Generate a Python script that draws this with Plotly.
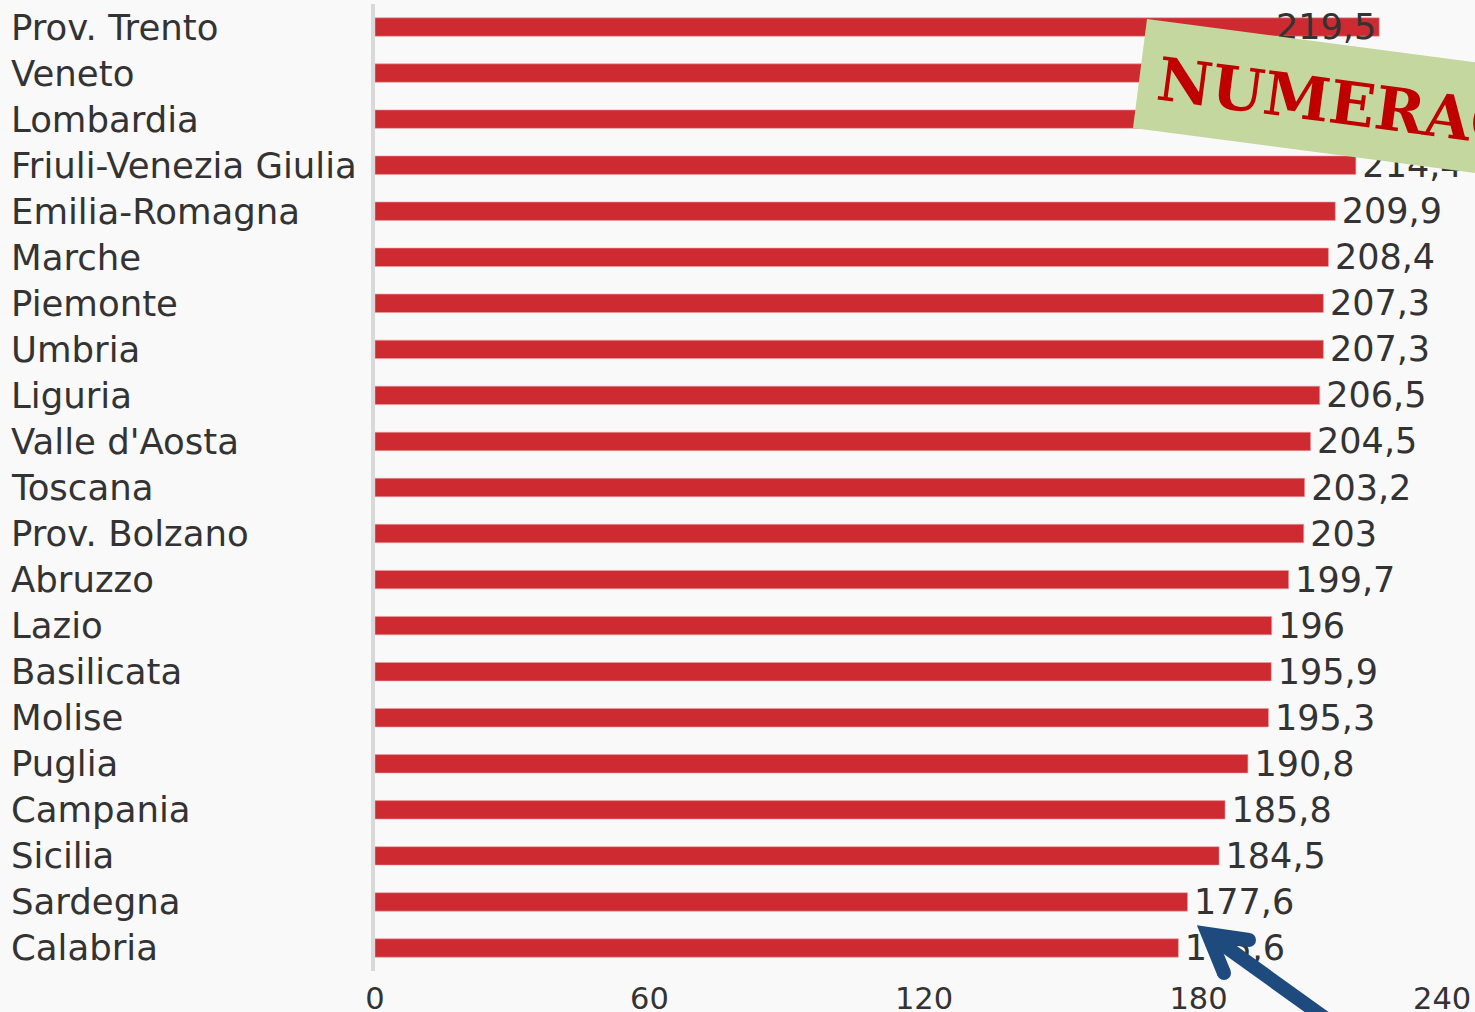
import plotly.graph_objects as go

regions = ["Prov. Trento", "Veneto", "Lombardia", "Friuli-Venezia Giulia", "Emilia-Romagna",
           "Marche", "Piemonte", "Umbria", "Liguria", "Valle d'Aosta", "Toscana",
           "Prov. Bolzano", "Abruzzo", "Lazio", "Basilicata", "Molise", "Puglia",
           "Campania", "Sicilia", "Sardegna", "Calabria"]
values = [219.5, 217.5, 216.8, 214.4, 209.9, 208.4, 207.3, 207.3, 206.5, 204.5, 203.2,
          203.0, 199.7, 196.0, 195.9, 195.3, 190.8, 185.8, 184.5, 177.6, 175.6]
x_ticks = [0, 60, 120, 180, 240]
banner_text = "NUMERACY"

positions = ["inside" if v >= 216 else "outside" for v in values]
labels = [("" if p == "inside" else "\u200a") + f"{v:g}".replace(".", ",")
          for v, p in zip(values, positions)]

W, H = 1475, 1012
ML, MR, MT, MB = 375, 2, 4, 41
PW, PH = W - ML - MR, H - MT - MB


def pp(x, y):
    return (x - ML) / PW, (H - MB - y) / PH


TXT = "#333333"
FONT = "DejaVu Sans"
CAT_SIZE = 35.5
VAL_SIZE = 35
TICK_SIZE = 30.5

fig = go.Figure()
fig.add_trace(go.Bar(
    y=regions, x=values, orientation="h",
    marker=dict(color="#cd2a31", line=dict(color="#e9a0a3", width=0.6)),
    text=labels, textposition=positions, textangle=0,
    insidetextanchor="end", constraintext="none", cliponaxis=False,
    textfont=dict(family=FONT, size=VAL_SIZE, color=TXT),
    insidetextfont=dict(family=FONT, size=VAL_SIZE, color=TXT),
    outsidetextfont=dict(family=FONT, size=VAL_SIZE, color=TXT),
    hoverinfo="skip",
))

annotations = []
for r in regions:
    annotations.append(dict(
        x=(9 - ML) / PW, xref="paper", y=r, yref="y", text=r, showarrow=False,
        xanchor="left", yanchor="middle", font=dict(family=FONT, size=CAT_SIZE, color=TXT)))

# last tick label kept inside the page
annotations.append(dict(
    x=x_ticks[-1], xref="x", y=pp(0, 998)[1], yref="paper", text=str(x_ticks[-1]),
    showarrow=False, xanchor="right", yanchor="middle",
    font=dict(family=FONT, size=TICK_SIZE, color=TXT)))

# banner
tl, bl = (1147, 19), (1133, 128)
slope = 0.1316
tr = (1560, tl[1] + (1560 - tl[0]) * slope)
br = (1560, bl[1] + (1560 - bl[0]) * slope)
pts = [pp(*tl), pp(*tr), pp(*br), pp(*bl)]
path = "M " + " L ".join(f"{a:.5f},{b:.5f}" for a, b in pts) + " Z"
shapes = [dict(type="path", path=path, xref="paper", yref="paper",
               fillcolor="#c4d79f", line=dict(width=0), layer="above")]

cx, cy = pp(1359, 105)
annotations.append(dict(
    x=cx, y=cy, xref="paper", yref="paper", text="<b>" + banner_text + "</b>",
    showarrow=False, textangle=7.5, xanchor="center", yanchor="middle",
    font=dict(family="DejaVu Serif", size=60, color="#c00000")))

# arrow
AC = "#1f4a7d"
V = (1208, 934)
A1 = (1249, 940)
A2 = (1224, 973)
S_end = (1350, 1036)


def seg(points):
    return "M " + " L ".join("{:.5f},{:.5f}".format(*pp(*p)) for p in points)


shapes.append(dict(type="path", path=seg([V, S_end]), xref="paper", yref="paper",
                   line=dict(color=AC, width=14), layer="above"))
shapes.append(dict(type="path", path=seg([A1, V, A2]), xref="paper", yref="paper",
                   line=dict(color=AC, width=14), layer="above"))
for c in (A1, A2):
    x0, y0 = pp(c[0] - 7, c[1] + 7)
    x1, y1 = pp(c[0] + 7, c[1] - 7)
    shapes.append(dict(type="circle", x0=x0, y0=y0, x1=x1, y1=y1, xref="paper", yref="paper",
                       fillcolor=AC, line=dict(width=0), layer="above"))

fig.update_layout(
    width=W, height=H,
    margin=dict(l=ML, r=MR, t=MT, b=MB, pad=0, autoexpand=False),
    paper_bgcolor="#f9f9f9", plot_bgcolor="#f9f9f9",
    bargap=0.6, showlegend=False,
    xaxis=dict(range=[0, 240], tickvals=x_ticks[:-1], showgrid=False, zeroline=False,
               showline=False, ticks="", ticklabelstandoff=6, automargin=False,
               tickfont=dict(family=FONT, size=TICK_SIZE, color=TXT),
               fixedrange=True),
    yaxis=dict(categoryorder="array", categoryarray=regions, autorange="reversed",
               showticklabels=False, showgrid=False, zeroline=False, ticks="",
               automargin=False,
               showline=True, linecolor="#d9d9d9", linewidth=3.5, fixedrange=True),
    annotations=annotations, shapes=shapes,
)

fig.write_html("out.html", config={"displayModeBar": False},
               post_script="document.body.style.margin='0';document.body.style.background='#f9f9f9';")
